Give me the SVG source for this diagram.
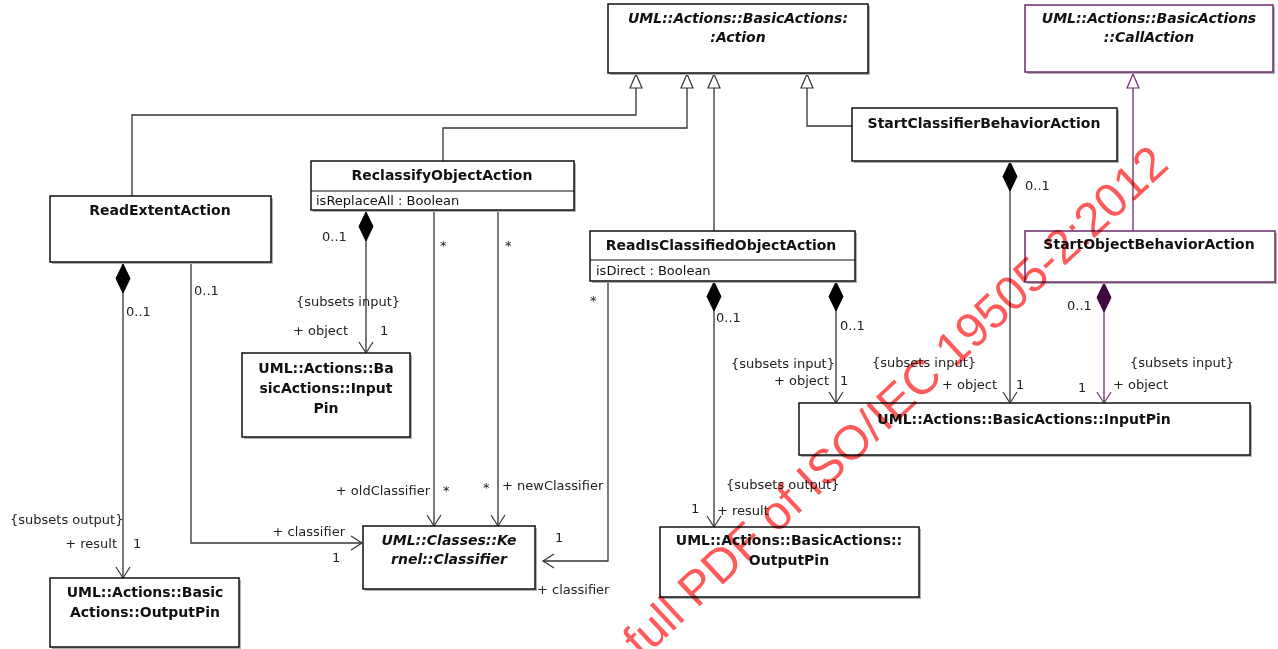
<svg xmlns="http://www.w3.org/2000/svg" width="1278" height="649" viewBox="0 0 1278 649">
  <style>
    .box { fill: #ffffff; stroke: #111111; stroke-width: 1.5; }
    .pbox { fill: #ffffff; stroke: #6d2a6d; stroke-width: 1.5; }
    .shadow { fill: #b0b0b0; }
    .sep { stroke: #111111; stroke-width: 1.2; }
    .title { font-family: "DejaVu Sans", Verdana, sans-serif; font-weight: bold; font-size: 14px; fill: #111111; text-anchor: middle; }
    .abstract { font-style: italic; }
    .attr { font-family: "DejaVu Sans", Verdana, sans-serif; font-size: 13px; fill: #111111; }
    .lbl { font-family: "DejaVu Sans", Verdana, sans-serif; font-size: 13px; fill: #222222; }
    .end { text-anchor: end; }
    .line { fill: none; stroke: #333333; stroke-width: 1.3; }
    .pline { fill: none; stroke: #6d2a6d; stroke-width: 1.3; }
    .wm { font-family: "Liberation Sans", Arial, sans-serif; font-size: 48px; fill: #ff5a5a; mix-blend-mode: multiply; }
  </style>
  <defs>
    <marker id="gen" markerUnits="userSpaceOnUse" orient="auto" refX="0" refY="0" overflow="visible" markerWidth="16" markerHeight="14">
      <path d="M-14,-6 L0,0 L-14,6 Z" fill="#ffffff" stroke="#333333" stroke-width="1.2"/>
    </marker>
    <marker id="pgen" markerUnits="userSpaceOnUse" orient="auto" refX="0" refY="0" overflow="visible" markerWidth="16" markerHeight="14">
      <path d="M-14,-6 L0,0 L-14,6 Z" fill="#ffffff" stroke="#6d2a6d" stroke-width="1.2"/>
    </marker>
    <marker id="open" markerUnits="userSpaceOnUse" orient="auto" refX="0" refY="0" overflow="visible" markerWidth="12" markerHeight="16">
      <path d="M-11,-7 L0,0 L-11,7" fill="none" stroke="#333333" stroke-width="1.2"/>
    </marker>
    <marker id="popen" markerUnits="userSpaceOnUse" orient="auto" refX="0" refY="0" overflow="visible" markerWidth="12" markerHeight="16">
      <path d="M-11,-7 L0,0 L-11,7" fill="none" stroke="#6d2a6d" stroke-width="1.2"/>
    </marker>
    <marker id="comp" markerUnits="userSpaceOnUse" orient="auto" refX="0" refY="0" overflow="visible" markerWidth="30" markerHeight="16">
      <path d="M0,0 L14.5,-7 L29,0 L14.5,7 Z" fill="#000000" stroke="#000000" stroke-width="1"/>
    </marker>
    <marker id="pcomp" markerUnits="userSpaceOnUse" orient="auto" refX="0" refY="0" overflow="visible" markerWidth="30" markerHeight="16">
      <path d="M0,0 L14.5,-7 L29,0 L14.5,7 Z" fill="#3f0a3f" stroke="#3f0a3f" stroke-width="1"/>
    </marker>
  </defs>

  <rect width="1278" height="649" fill="#ffffff"/>

  <!-- connectors -->
  <g id="connectors">
    <!-- generalizations to Action -->
    <path class="line" d="M132,196 V115 H636 V74" marker-end="url(#gen)"/>
    <path class="line" d="M443,161 V128 H687 V74" marker-end="url(#gen)"/>
    <path class="line" d="M714,231 V74" marker-end="url(#gen)"/>
    <path class="line" d="M852,126 H807 V74" marker-end="url(#gen)"/>
    <!-- generalization to CallAction -->
    <path class="pline" d="M1133,231 V74" marker-end="url(#pgen)"/>

    <!-- ReadExtentAction associations -->
    <path class="line" d="M123,264 V578" marker-start="url(#comp)" marker-end="url(#open)"/>
    <path class="line" d="M191,263 V543 H362" marker-end="url(#open)"/>

    <!-- ReclassifyObjectAction associations -->
    <path class="line" d="M366,212 V353" marker-start="url(#comp)" marker-end="url(#open)"/>
    <path class="line" d="M434,211 V526" marker-end="url(#open)"/>
    <path class="line" d="M498,211 V526" marker-end="url(#open)"/>

    <!-- ReadIsClassifiedObjectAction associations -->
    <path class="line" d="M714,282 V527" marker-start="url(#comp)" marker-end="url(#open)"/>
    <path class="line" d="M836,282 V403" marker-start="url(#comp)" marker-end="url(#open)"/>
    <path class="line" d="M608,282 V561 H543" marker-end="url(#open)"/>

    <!-- StartClassifierBehaviorAction / StartObjectBehaviorAction -->
    <path class="line" d="M1010,162 V403" marker-start="url(#comp)" marker-end="url(#open)"/>
    <path class="pline" d="M1104,283 V403" marker-start="url(#pcomp)" marker-end="url(#popen)"/>

    <!-- association end labels -->
    <text class="lbl" x="126" y="316">0..1</text>
    <text class="lbl" x="194" y="295">0..1</text>
    <text class="lbl" x="10" y="524">{subsets output}</text>
    <text class="lbl end" x="117" y="548">+ result</text>
    <text class="lbl" x="133" y="548">1</text>
    <text class="lbl end" x="345" y="536">+ classifier</text>
    <text class="lbl" x="332" y="562">1</text>

    <text class="lbl" x="322" y="241">0..1</text>
    <text class="lbl" x="296" y="306">{subsets input}</text>
    <text class="lbl" x="293" y="335">+ object</text>
    <text class="lbl" x="380" y="335">1</text>
    <text class="lbl" x="440" y="250">*</text>
    <text class="lbl" x="505" y="250">*</text>
    <text class="lbl end" x="430" y="495">+ oldClassifier</text>
    <text class="lbl" x="443" y="495">*</text>
    <text class="lbl" x="483" y="492">*</text>
    <text class="lbl" x="502" y="490">+ newClassifier</text>

    <text class="lbl" x="590" y="305">*</text>
    <text class="lbl" x="555" y="542">1</text>
    <text class="lbl" x="537" y="594">+ classifier</text>
    <text class="lbl" x="716" y="322">0..1</text>
    <text class="lbl" x="840" y="330">0..1</text>
    <text class="lbl end" x="835" y="368">{subsets input}</text>
    <text class="lbl end" x="829" y="385">+ object</text>
    <text class="lbl" x="840" y="385">1</text>
    <text class="lbl" x="726" y="489">{subsets output}</text>
    <text class="lbl" x="691" y="513">1</text>
    <text class="lbl" x="717" y="515">+ result</text>

    <text class="lbl" x="1025" y="190">0..1</text>
    <text class="lbl" x="872" y="367">{subsets input}</text>
    <text class="lbl" x="942" y="389">+ object</text>
    <text class="lbl" x="1016" y="389">1</text>
    <text class="lbl" x="1067" y="310">0..1</text>
    <text class="lbl" x="1130" y="367">{subsets input}</text>
    <text class="lbl" x="1113" y="389">+ object</text>
    <text class="lbl" x="1078" y="392">1</text>
  </g>

  <!-- classes -->
  <g id="Action">
    <rect class="shadow" x="610" y="6" width="260" height="69"/>
    <rect class="box" x="608" y="4" width="260" height="69"/>
    <text class="title abstract" x="738" y="23">UML::Actions::BasicActions:</text>
    <text class="title abstract" x="738" y="42">:Action</text>
  </g>

  <g id="CallAction">
    <rect class="shadow" x="1027" y="7" width="248" height="67"/>
    <rect class="pbox" x="1025" y="5" width="248" height="67"/>
    <text class="title abstract" x="1149" y="23">UML::Actions::BasicActions</text>
    <text class="title abstract" x="1149" y="42">::CallAction</text>
  </g>

  <g id="StartClassifierBehaviorAction">
    <rect class="shadow" x="854" y="110" width="265" height="53"/>
    <rect class="box" x="852" y="108" width="265" height="53"/>
    <text class="title" x="984" y="128">StartClassifierBehaviorAction</text>
  </g>

  <g id="StartObjectBehaviorAction">
    <rect class="shadow" x="1027" y="233" width="250" height="51"/>
    <rect class="pbox" x="1025" y="231" width="250" height="51"/>
    <text class="title" x="1149" y="249">StartObjectBehaviorAction</text>
  </g>

  <g id="ReadIsClassifiedObjectAction">
    <rect class="shadow" x="592" y="233" width="265" height="50"/>
    <rect class="box" x="590" y="231" width="265" height="50"/>
    <line class="sep" x1="590" y1="260" x2="855" y2="260"/>
    <text class="title" x="721" y="250">ReadIsClassifiedObjectAction</text>
    <text class="attr" x="596" y="275">isDirect : Boolean</text>
  </g>

  <g id="ReclassifyObjectAction">
    <rect class="shadow" x="313" y="163" width="263" height="49"/>
    <rect class="box" x="311" y="161" width="263" height="49"/>
    <line class="sep" x1="311" y1="191" x2="574" y2="191"/>
    <text class="title" x="442" y="180">ReclassifyObjectAction</text>
    <text class="attr" x="316" y="205">isReplaceAll : Boolean</text>
  </g>

  <g id="ReadExtentAction">
    <rect class="shadow" x="52" y="198" width="221" height="66"/>
    <rect class="box" x="50" y="196" width="221" height="66"/>
    <text class="title" x="160" y="215">ReadExtentAction</text>
  </g>

  <g id="InputPinA">
    <rect class="shadow" x="244" y="355" width="168" height="84"/>
    <rect class="box" x="242" y="353" width="168" height="84"/>
    <text class="title" x="326" y="373">UML::Actions::Ba</text>
    <text class="title" x="326" y="393">sicActions::Input</text>
    <text class="title" x="326" y="413">Pin</text>
  </g>

  <g id="InputPinB">
    <rect class="shadow" x="801" y="405" width="451" height="52"/>
    <rect class="box" x="799" y="403" width="451" height="52"/>
    <text class="title" x="1024" y="424">UML::Actions::BasicActions::InputPin</text>
  </g>

  <g id="Classifier">
    <rect class="shadow" x="365" y="528" width="172" height="63"/>
    <rect class="box" x="363" y="526" width="172" height="63"/>
    <text class="title abstract" x="449" y="545">UML::Classes::Ke</text>
    <text class="title abstract" x="449" y="564">rnel::Classifier</text>
  </g>

  <g id="OutputPinB">
    <rect class="shadow" x="662" y="529" width="259" height="70"/>
    <rect class="box" x="660" y="527" width="259" height="70"/>
    <text class="title" x="789" y="545">UML::Actions::BasicActions::</text>
    <text class="title" x="789" y="565">OutputPin</text>
  </g>

  <g id="OutputPinA">
    <rect class="shadow" x="52" y="580" width="189" height="69"/>
    <rect class="box" x="50" y="578" width="189" height="69"/>
    <text class="title" x="145" y="597">UML::Actions::Basic</text>
    <text class="title" x="145" y="617">Actions::OutputPin</text>
  </g>

  <!-- document watermark -->
  <text class="wm" transform="translate(642,660) rotate(-43)">full PDF of ISO/IEC 19505-2:2012</text>
</svg>
